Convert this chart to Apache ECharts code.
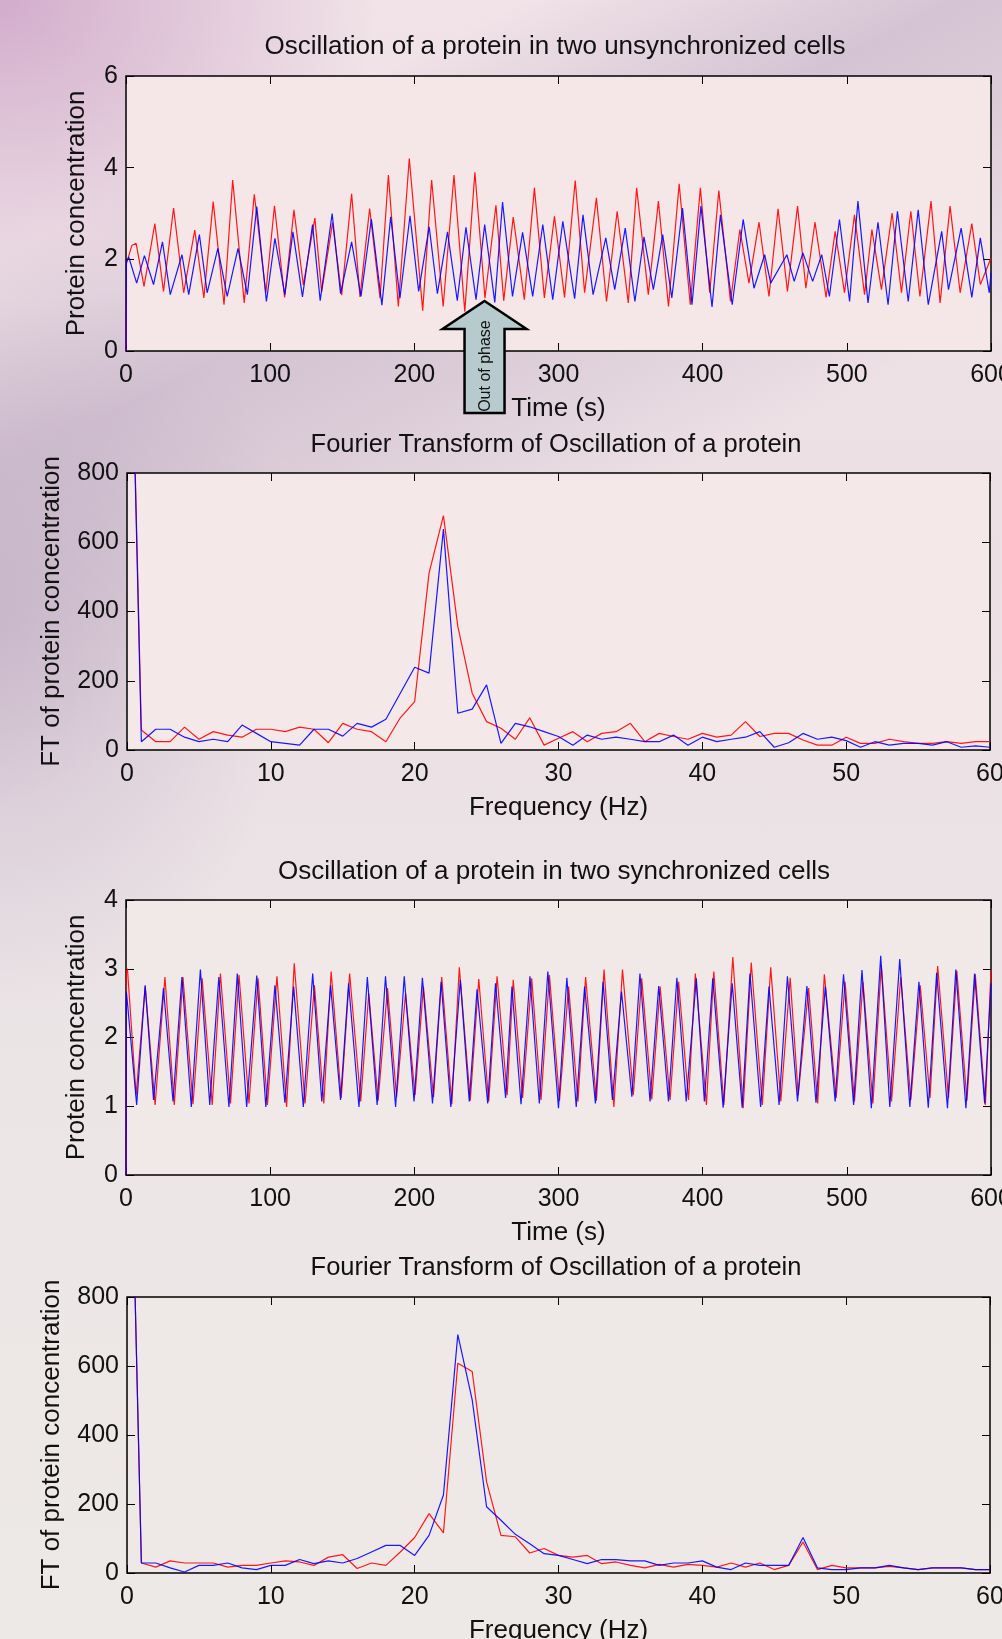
<!DOCTYPE html>
<html>
<head>
<meta charset="utf-8">
<script src="https://cdn.jsdelivr.net/npm/echarts@6/dist/echarts.min.js"></script>
<style>
  html, body { margin: 0; padding: 0; }
  #chart {
    width: 1002px;
    height: 1639px;
    background:
      radial-gradient(ellipse 380px 300px at 0px 0px, rgba(200,155,195,0.75), rgba(200,155,195,0) 100%),
      radial-gradient(ellipse 300px 400px at 0px 620px, rgba(185,165,190,0.55), rgba(185,165,190,0) 100%),
      linear-gradient(154deg, rgba(190,170,195,0) 12%, rgba(190,170,195,0.55) 22%, rgba(195,178,198,0.45) 28%, rgba(200,185,200,0) 38%),
      linear-gradient(180deg, #f1e3e8 0%, #ecdfe4 35%, #ebe3e6 55%, #ece7e6 75%, #ede9e6 100%);
  }
</style>
</head>
<body>
<div id="chart"></div>
<script>
// peaks and troughs, [time (s), concentration]
const unsyncRed = [
  [0, 0], [0.3, 1.9], [4, 2.3], [7, 2.35], [12.5, 1.41], [20, 2.78], [26, 1.3], [33, 3.12],
  [40, 1.27], [47.7, 2.64], [54, 1.16], [60.5, 3.26], [68, 1.01], [74, 3.73], [82, 1.05],
  [89, 3.42], [97, 1.27], [103, 3.17], [110, 1.17], [116.5, 3.08], [123, 1.44], [131, 2.9],
  [135.7, 1.29], [143.3, 2.8], [149.6, 1.22], [156.5, 3.43], [162.3, 1.18], [169, 3.11],
  [176.2, 1.15], [182, 3.84], [188.9, 0.97], [196.5, 4.2], [205.8, 0.88], [212, 3.73],
  [220, 0.97], [227.5, 3.84], [235, 0.86], [242, 3.9], [249, 1.15], [256.6, 3.18], [262, 1.1],
  [268.6, 2.92], [276.3, 1.12], [283.3, 3.56], [290.2, 1.16], [297.2, 2.94], [304.2, 1.17],
  [311.6, 3.72], [318.1, 1.27], [326.3, 3.34], [333.3, 1.08], [340.7, 3.05], [348.4, 1.05],
  [354.2, 3.56], [362.3, 1.23], [369.3, 3.27], [376.3, 0.97], [383.7, 3.65], [391.4, 1.01],
  [398.4, 3.56], [404.9, 1.27], [411.2, 3.5], [419.3, 1.08], [425.8, 2.65], [432.1, 1.48],
  [439.1, 2.81], [446, 1.19], [452.3, 3.1], [458.8, 1.3], [465.8, 3.16], [471.6, 1.37],
  [477.9, 2.81], [485.6, 1.17], [491.9, 2.61], [498.4, 1.27], [505.3, 2.97], [512.3, 1.23],
  [517.4, 2.65], [524, 1.34], [531.4, 3.01], [537.9, 1.27], [544.4, 3.05], [550.7, 1.19],
  [558.4, 3.27], [564.7, 1.05], [571.6, 3.16], [578.6, 1.27], [586.7, 2.78], [592.6, 1.45],
  [600, 2.03]
];
const unsyncBlue = [
  [0, 0], [0.3, 1.95], [1.9, 2.05], [7.4, 1.48], [12.8, 2.08], [19.1, 1.45], [25.3, 2.38],
  [30.7, 1.23], [38.8, 2.1], [43.5, 1.23], [50.9, 2.54], [56.3, 1.27], [63.7, 2.24], [70.2, 1.19],
  [77.7, 2.24], [84.2, 1.23], [90.7, 3.15], [97.4, 1.08], [103.3, 2.46], [110.2, 1.23],
  [115.8, 2.6], [122.4, 1.18], [129.4, 2.76], [134.7, 1.1], [143, 3.0], [148.8, 1.25],
  [156.5, 2.38], [163, 1.19], [170.2, 2.88], [177.5, 1.0], [183.6, 2.93], [190, 1.15],
  [197, 2.95], [203, 1.3], [210.3, 2.71], [216, 1.25], [223, 2.6], [229.8, 1.1], [235.8, 2.7],
  [242.8, 1.12], [248.8, 2.76], [255.8, 1.06], [261.2, 3.25], [268.1, 1.19], [275.1, 2.59],
  [282.1, 1.19], [289.1, 2.76], [296, 1.12], [303, 2.83], [311.2, 1.14], [317, 2.97], [324, 1.23],
  [332.8, 2.47], [339, 1.34], [346.3, 2.68], [353, 1.08], [359.3, 2.49], [365.8, 1.34],
  [372.3, 2.54], [378.6, 1.16], [386, 3.12], [392.6, 1.01], [398.8, 3.16], [406.5, 0.96],
  [412.3, 2.97], [420.5, 1.01], [428.1, 2.87], [435.6, 1.37], [443, 2.1], [447.2, 1.48],
  [458.4, 2.1], [463.5, 1.52], [469.5, 2.14], [476.3, 1.52], [482.6, 2.1], [487.9, 1.19],
  [494.9, 2.87], [501.9, 1.08], [507.7, 3.27], [514.7, 1.05], [521.6, 2.81], [528.6, 1.01],
  [535.1, 3.05], [542.6, 1.08], [549.5, 3.08], [556.5, 1.01], [565.8, 2.61], [570.5, 1.34],
  [579.3, 2.68], [586.7, 1.17], [592.6, 2.47], [598.8, 1.27], [600, 1.7]
];
const syncRed = [
  [0, 0], [0.3, 2.95], [1, 3.0], [7, 1.16], [13.3, 2.74], [20.2, 1.02], [27, 2.88], [33.5, 1.02],
  [39.5, 2.88], [46.5, 1.03], [52.8, 2.86], [59.8, 1.02], [65.5, 2.93], [72.5, 1.04], [78.4, 2.91],
  [85.3, 1.04], [91.6, 2.86], [98.1, 1.02], [104.7, 2.89], [111.4, 0.99], [116.7, 3.08],
  [124.2, 1.04], [130.7, 2.76], [137.2, 1.04], [142.3, 2.96], [149.3, 1.12], [155.1, 2.93],
  [162.8, 1.07], [168.4, 2.64], [174.9, 1.08], [181.4, 2.72], [187.7, 1.13], [193.9, 2.64],
  [200.5, 1.16], [206.3, 2.74], [213.3, 1.13], [219, 2.88], [226, 1.03], [231.2, 3.02],
  [238.8, 1.08], [244.7, 2.85], [251.6, 1.07], [257.4, 2.89], [264.4, 1.16], [268.6, 2.84],
  [275.1, 1.12], [281.4, 2.86], [287.9, 1.09], [293.7, 2.91], [300.7, 1.08], [307, 2.74],
  [313.5, 1.07], [318.8, 2.88], [326.3, 1.08], [331.6, 2.99], [338.4, 0.99], [344.4, 2.99],
  [351.9, 1.16], [357.7, 2.86], [364.7, 1.1], [370.5, 2.74], [377.4, 1.09], [383.3, 2.81],
  [390.2, 1.09], [394.9, 2.93], [402.6, 1.02], [407.7, 2.96], [414.7, 1.02], [420.9, 3.17],
  [428.1, 0.97], [433.7, 3.09], [441.4, 1.02], [447.2, 3.02], [454.2, 1.07], [460.7, 2.87],
  [466.3, 1.16], [473.5, 2.72], [479.8, 1.04], [484.4, 2.92], [492.6, 1.12], [498.8, 2.81],
  [505.3, 1.07], [511.2, 2.81], [518.1, 1.04], [523.9, 3.05], [531, 1.07], [537.4, 2.88],
  [544.4, 1.09], [550.9, 2.76], [557.7, 1.12], [563, 3.04], [570.5, 1.12], [576.3, 2.97],
  [583.3, 1.08], [589.1, 2.92], [596.1, 1.02], [600, 2.98]
];
const syncBlue = [
  [0, 0], [0.3, 2.67], [7.4, 1.02], [13.3, 2.76], [19.1, 1.09], [26, 2.72], [32.6, 1.07],
  [38.8, 2.88], [45.3, 0.99], [51.6, 2.99], [58.1, 1.02], [64.4, 2.88], [71.4, 0.99], [77.2, 2.93],
  [83.7, 0.99], [90.7, 2.9], [97, 0.99], [103.3, 2.76], [110.2, 1.05], [116.3, 2.74], [123, 0.99],
  [129.5, 2.93], [135.8, 1.07], [141.9, 2.76], [148.8, 1.09], [154.4, 2.79], [161.6, 0.99],
  [167.4, 2.88], [174.2, 1.02], [180, 2.89], [187, 0.99], [193, 2.89], [199.8, 1.07], [205.6, 2.87],
  [212.6, 1.04], [218.6, 2.81], [225.3, 0.99], [231.9, 2.84], [238.1, 1.07], [243.5, 2.7],
  [250.9, 1.04], [256.3, 2.79], [263.3, 1.12], [267.7, 2.74], [274, 1.03], [280.2, 2.89],
  [286.7, 1.04], [292.6, 2.96], [300, 0.97], [305.8, 2.87], [312.3, 0.99], [318.1, 2.74],
  [325.6, 1.04], [330.9, 2.81], [337.4, 1.09], [343.7, 2.67], [350.9, 1.14], [356.5, 2.93],
  [363.5, 1.07], [369.5, 2.75], [376.3, 1.07], [382.1, 2.87], [388.6, 1.07], [395.6, 2.86],
  [401.2, 1.07], [407, 2.86], [414.2, 0.98], [420.5, 2.79], [427.4, 0.98], [432.8, 2.93],
  [440.2, 0.99], [446, 2.74], [453, 1.02], [458.8, 2.89], [465.8, 1.07], [472.3, 2.75],
  [478.6, 1.05], [485.1, 2.74], [491.9, 1.07], [497.7, 2.92], [504.7, 1.02], [510.5, 2.98],
  [517, 0.97], [523.5, 3.19], [529.8, 0.99], [536.7, 3.14], [543.7, 0.99], [550, 2.81],
  [556.5, 0.98], [562.3, 2.94], [569.8, 0.97], [575.6, 2.99], [582.6, 0.97], [588.6, 2.93],
  [595.6, 1.04], [600, 2.79]
];

// Fourier transforms, one value per frequency 0..60 Hz
const ftUnsyncRed = [
  1800, 58, 24, 24, 66, 31, 53, 43, 37, 60, 60, 53, 66, 60, 21, 77, 60, 53, 24, 93, 140,
  511, 677, 357, 164, 82, 63, 31, 93, 14, 34, 53, 24, 48, 53, 77, 24, 48, 39, 31, 48,
  37, 43, 82, 39, 48, 48, 29, 14, 14, 37, 19, 19, 31, 24, 19, 19, 24, 19, 24, 24
];
const ftUnsyncBlue = [
  1800, 24, 60, 60, 37, 24, 31, 24, 72, 48, 24, 19, 14, 60, 60, 40, 77, 66, 89, 164, 239,
  222, 638, 106, 118, 188, 19, 77, 67, 53, 39, 14, 43, 31, 37, 31, 24, 24, 43, 14, 37,
  24, 31, 37, 53, 8, 21, 48, 31, 37, 27, 8, 24, 14, 19, 19, 14, 24, 8, 12, 8
];
const ftSyncRed = [
  1800, 29, 17, 35, 29, 29, 29, 17, 22, 22, 29, 35, 32, 22, 46, 53, 13, 29, 22, 61, 103,
  172, 116, 608, 584, 264, 109, 105, 58, 71, 51, 46, 51, 27, 32, 22, 15, 25, 17, 25, 22,
  17, 29, 17, 29, 10, 22, 90, 10, 22, 15, 15, 15, 19, 15, 10, 15, 15, 15, 10, 10
];
const ftSyncBlue = [
  1800, 29, 29, 15, 3, 22, 22, 29, 15, 10, 22, 22, 39, 27, 35, 29, 42, 61, 80, 80, 51,
  109, 226, 691, 502, 192, 153, 112, 85, 56, 51, 39, 27, 39, 39, 35, 35, 22, 29, 29, 35,
  17, 10, 29, 22, 22, 22, 103, 15, 10, 10, 15, 15, 22, 15, 10, 15, 15, 15, 10, 10
];

const panelTitles = [
  "Oscillation of a protein in two unsynchronized cells",
  "Fourier Transform of Oscillation of a protein",
  "Oscillation of a protein in two synchronized cells",
  "Fourier Transform of Oscillation of a protein"
];
const arrowTip = [248.7, 1.09]; // where "Out of phase" points, in data units of panel 1

const FONT = '"Liberation Sans", Arial, Helvetica, sans-serif';
const RED = "#ff0000";
const BLUE = "#0000ff";

const grids = [
  { left: 126, top: 76, width: 865, height: 275, backgroundColor: "#f5e6e8" },
  { left: 127, top: 473, width: 863, height: 277, backgroundColor: "#f4e8e8" },
  { left: 126, top: 900, width: 865, height: 275, backgroundColor: "#f0e9e8" },
  { left: 127, top: 1297, width: 863, height: 276, backgroundColor: "#eee9e7" }
].map((g) => Object.assign(g, {
  show: true, borderColor: "#000", borderWidth: 1.5,
  containLabel: false, outerBoundsMode: "none"
}));

const panels = [
  { xMax: 600, xStep: 100, yMax: 6, yStep: 2, xName: "Time (s)", yName: "Protein concentration", fs: 25, yGap: 36 },
  { xMax: 60, xStep: 10, yMax: 800, yStep: 200, xName: "Frequency (Hz)", yName: "FT of protein concentration", fs: 25, yGap: 62 },
  { xMax: 600, xStep: 100, yMax: 4, yStep: 1, xName: "Time (s)", yName: "Protein concentration", fs: 25, yGap: 36 },
  { xMax: 60, xStep: 10, yMax: 800, yStep: 200, xName: "Frequency (Hz)", yName: "FT of protein concentration", fs: 25, yGap: 62 }
];

// matlab-style ticks pointing into the box
function tick() {
  return { show: true, inside: true, length: 8, lineStyle: { color: "#000", width: 1 } };
}
function noLine() {
  return { show: false, onZero: false };
}
const xAxis = [];
const yAxis = [];
panels.forEach((p, i) => {
  xAxis.push({
    type: "value", gridIndex: i, position: "bottom", min: 0, max: p.xMax, interval: p.xStep,
    axisLine: noLine(), axisTick: tick(), splitLine: { show: false },
    axisLabel: { fontSize: p.fs, color: "#111", fontFamily: FONT, margin: 12 },
    name: p.xName, nameLocation: "middle", nameGap: 45,
    nameTextStyle: { fontSize: 26, color: "#111", fontFamily: FONT }
  });
  xAxis.push({
    type: "value", gridIndex: i, position: "top", min: 0, max: p.xMax, interval: p.xStep,
    axisLine: noLine(), axisTick: tick(), splitLine: { show: false }, axisLabel: { show: false }
  });
  yAxis.push({
    type: "value", gridIndex: i, position: "left", min: 0, max: p.yMax, interval: p.yStep,
    axisLine: noLine(), axisTick: tick(), splitLine: { show: false },
    axisLabel: { fontSize: p.fs, color: "#111", fontFamily: FONT, margin: 8 },
    name: p.yName, nameLocation: "middle", nameGap: p.yGap,
    nameTextStyle: { fontSize: 26, color: "#111", fontFamily: FONT }
  });
  yAxis.push({
    type: "value", gridIndex: i, position: "right", min: 0, max: p.yMax, interval: p.yStep,
    axisLine: noLine(), axisTick: tick(), splitLine: { show: false }, axisLabel: { show: false }
  });
});

const byFreq = (arr) => arr.map((v, f) => [f, v]);
const lines = [
  [0, unsyncRed, RED], [0, unsyncBlue, BLUE],
  [1, byFreq(ftUnsyncRed), RED], [1, byFreq(ftUnsyncBlue), BLUE],
  [2, syncRed, RED], [2, syncBlue, BLUE],
  [3, byFreq(ftSyncRed), RED], [3, byFreq(ftSyncBlue), BLUE]
];
const series = lines.map(([g, data, color]) => ({
  type: "line",
  xAxisIndex: g * 2,
  yAxisIndex: g * 2,
  data: data,
  showSymbol: false,
  silent: true,
  animation: false,
  clip: true,
  lineStyle: { color: color, width: 1.2, opacity: 0.9 }
}));

const titleX = [555, 556, 554, 556];
const titleY = [47, 445, 872, 1268];
const titleTexts = panelTitles.map((t, i) => ({
  type: "text",
  x: titleX[i],
  y: titleY[i],
  style: {
    text: t, align: "center", verticalAlign: "middle",
    font: (i % 2 ? 25.5 : 26) + "px " + FONT, fill: "#111"
  }
}));

const chart = echarts.init(document.getElementById("chart"), null, { renderer: "canvas" });
chart.setOption({
  backgroundColor: "transparent",
  animation: false,
  grid: grids,
  xAxis: xAxis,
  yAxis: yAxis,
  series: series,
  graphic: titleTexts
});

// the "Out of phase" arrow, anchored to the data point it points at
const tip = chart.convertToPixel({ gridIndex: 0 }, arrowTip);
chart.setOption({
  graphic: titleTexts.concat([
    {
      type: "polygon",
      x: tip[0], y: tip[1], z: 100,
      shape: { points: [[0, 0], [42, 28], [20, 28], [20, 112], [-20, 112], [-20, 28], [-42, 28]] },
      style: { fill: "#b7cacd", stroke: "#000", lineWidth: 2.5 }
    },
    {
      type: "text",
      x: tip[0] + 1, y: tip[1] + 65, z: 101, rotation: Math.PI / 2,
      style: { text: "Out of phase", align: "center", verticalAlign: "middle", font: "16px " + FONT, fill: "#111" }
    }
  ])
});
</script>
</body>
</html>
